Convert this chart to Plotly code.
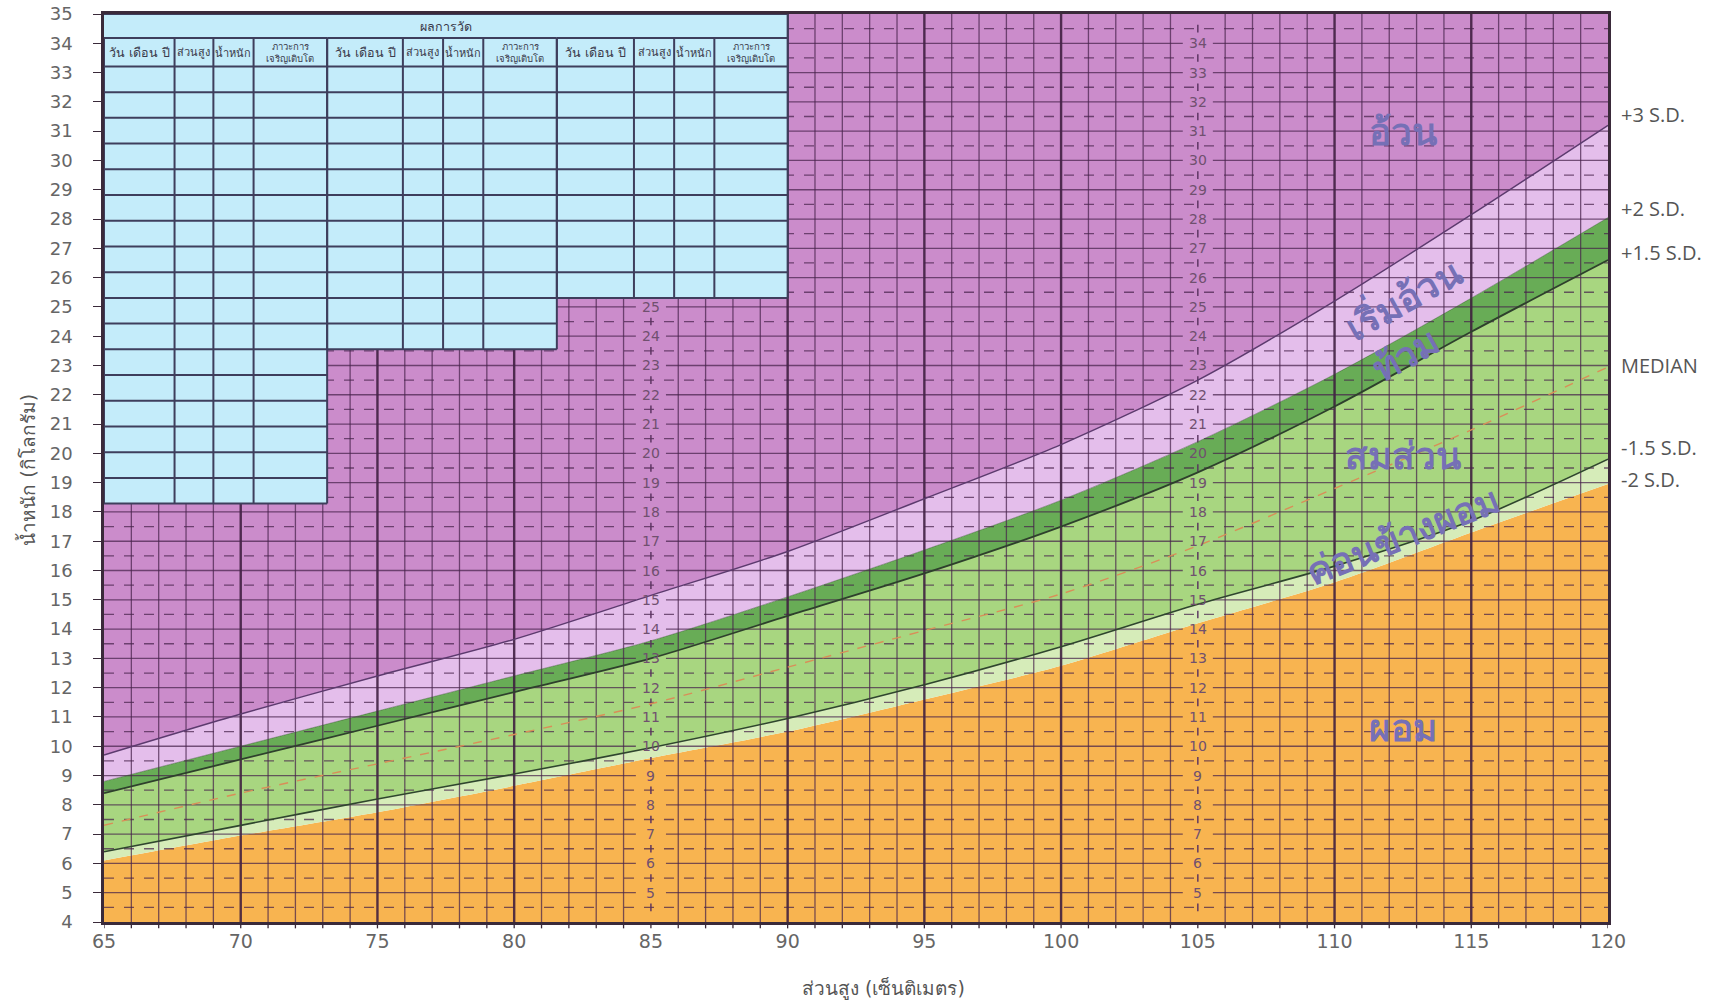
import numpy as np
import plotly.graph_objects as go

# ---------------- data ----------------
heights = [65, 70, 75, 80, 85, 90, 95, 100, 105, 110, 115, 120]
sd_minus2 = [6.1, 6.95, 7.75, 8.65, 9.6, 10.5, 11.6, 12.75, 14.2, 15.6, 17.3, 18.95]
sd_minus15 = [6.4, 7.3, 8.2, 9.05, 9.95, 10.95, 12.1, 13.4, 14.85, 16.15, 17.7, 19.8]
median = [7.3, 8.4, 9.4, 10.4, 11.45, 12.7, 13.95, 15.2, 16.85, 18.8, 20.8, 22.95]
sd_plus15 = [8.4, 9.55, 10.7, 11.85, 13.0, 14.45, 15.9, 17.5, 19.35, 21.6, 24.15, 26.6]
sd_plus2 = [8.8, 10.0, 11.2, 12.4, 13.6, 15.1, 16.7, 18.4, 20.4, 22.7, 25.3, 28.05]
sd_plus3 = [9.7, 11.1, 12.4, 13.65, 15.15, 16.65, 18.45, 20.3, 22.5, 25.2, 28.15, 31.2]

curve_names = ["+3 S.D.", "+2 S.D.", "+1.5 S.D.", "MEDIAN", "-1.5 S.D.", "-2 S.D."]
zone_names = ["อ้วน", "เริ่มอ้วน", "ท้วม", "สมส่วน", "ค่อนข้างผอม", "ผอม"]

x_min, x_max = 65, 120
y_min, y_max = 4, 35

table_title = "ผลการวัด"
table_headers = ["วัน เดือน ปี", "ส่วนสูง", "น้ำหนัก", "ภาวะการ<br>เจริญเติบโต"]
table_cols = [65, 67.58, 69.0, 70.47, 73.16, 75.93, 77.4, 78.87, 81.56, 84.38, 85.85, 87.32, 90.0]
table_rows_per_group = [17, 11, 9]

x_title = "ส่วนสูง (เซ็นติเมตร)"
y_title = "น้ำหนัก (กิโลกรัม)"

# ---------------- styles ----------------
C_ORANGE = "#F8B450"
C_LGREEN = "#D6ECB9"
C_GREEN = "#A8D680"
C_DGREEN = "#68AC56"
C_LPURPLE = "#E4BEEB"
C_PURPLE = "#CB8CCB"
C_TABLE = "#C4ECFA"
GRID = "rgba(70,35,75,0.72)"
GRID_MAJOR = "rgba(60,28,62,0.88)"
ZONE_TXT = "#7670B6"
LABEL_TXT = "#555555"
TABLE_LINE = "#3E3E5C"
AXIS = "#3A2A3A"

fig = go.Figure()

# ---------------- bands ----------------
top = [y_max] * len(heights)
base = [y_min] * len(heights)
fig.add_trace(go.Scatter(x=heights, y=base, mode="lines", line=dict(width=0),
                         hoverinfo="skip", showlegend=False))
for ys, col in [(sd_minus2, C_ORANGE), (sd_minus15, C_LGREEN), (sd_plus15, C_GREEN),
                (sd_plus2, C_DGREEN), (sd_plus3, C_LPURPLE), (top, C_PURPLE)]:
    fig.add_trace(go.Scatter(x=heights, y=ys, mode="lines",
                             line=dict(width=0, shape="spline", smoothing=0.8),
                             fill="tonexty", fillcolor=col,
                             hoverinfo="skip", showlegend=False))

# ---------------- grid ----------------
label_cols = [85, 105]
gap = 0.55

def seg_trace(xs, ys, color, width, dash="solid"):
    fig.add_trace(go.Scatter(x=xs, y=ys, mode="lines",
                             line=dict(color=color, width=width, dash=dash),
                             hoverinfo="skip", showlegend=False))

xs, ys = [], []
for xv in range(x_min + 1, x_max):
    if xv % 5 == 0 or xv in label_cols:
        continue
    xs += [xv, xv, None]
    ys += [y_min, y_max, None]
seg_trace(xs, ys, GRID, 1.3)
xs, ys = [], []
for xv in range(x_min + 5, x_max, 5):
    if xv in label_cols:
        continue
    xs += [xv, xv, None]
    ys += [y_min, y_max, None]
seg_trace(xs, ys, GRID_MAJOR, 2.4)
xs, ys = [], []
for yv in range(y_min + 1, y_max):
    pts = [x_min]
    for c in label_cols:
        pts += [c - gap, c + gap]
    pts.append(x_max)
    for i in range(0, len(pts), 2):
        xs += [pts[i], pts[i + 1], None]
        ys += [yv, yv, None]
seg_trace(xs, ys, GRID, 1.3)
xs, ys = [], []
for k in range(y_min, y_max):
    yv = k + 0.5
    xs += [x_min, x_max, None]
    ys += [yv, yv, None]
seg_trace(xs, ys, GRID, 1.3, dash="10px,10px")
xs, ys = [], []
for c in label_cols:
    for k in range(y_min, y_max):
        yv = k + 0.5
        xs += [c, c, None]
        ys += [yv - 0.13, yv + 0.13, None]
seg_trace(xs, ys, "rgba(90,50,95,0.9)", 1.6)

# ---------------- curves ----------------
curve_style = [
    (sd_plus3, "#5C3A6E", 1.4, "solid"),
    (sd_plus2, "rgba(50,80,45,0.6)", 0.8, "solid"),
    (sd_plus15, "#2E402C", 1.8, "solid"),
    (median, "#D98E58", 1.4, "dash"),
    (sd_minus15, "#2F452E", 1.6, "solid"),
]
for ys, col, w, d in curve_style:
    fig.add_trace(go.Scatter(x=heights, y=ys, mode="lines",
                             line=dict(color=col, width=w, dash=d, shape="spline", smoothing=0.8),
                             hoverinfo="skip", showlegend=False))

# ---------------- table (shapes above) ----------------
shapes = []
h_top, h_bot, sub_bot, row_h = 35.0, 34.18, 33.21, 0.878
groups = []
for g in range(3):
    cols = table_cols[4 * g: 4 * g + 5]
    bottom = sub_bot - table_rows_per_group[g] * row_h
    groups.append((cols, bottom))
    shapes.append(dict(type="rect", xref="x", yref="y", x0=cols[0], x1=cols[-1],
                       y0=bottom, y1=h_bot, fillcolor=C_TABLE, line=dict(width=0), layer="above"))
shapes.append(dict(type="rect", xref="x", yref="y", x0=table_cols[0], x1=table_cols[-1],
                   y0=h_bot, y1=h_top, fillcolor=C_TABLE, line=dict(width=0), layer="above"))
for g, (cols, bottom) in enumerate(groups):
    for cx in cols:
        shapes.append(dict(type="line", xref="x", yref="y", x0=cx, x1=cx, y0=bottom, y1=h_bot,
                           line=dict(color=TABLE_LINE, width=2), layer="above"))
    row_lines = [h_bot, sub_bot] + [sub_bot - (r + 1) * row_h for r in range(table_rows_per_group[g])]
    for yv in row_lines:
        shapes.append(dict(type="line", xref="x", yref="y", x0=cols[0], x1=cols[-1], y0=yv, y1=yv,
                           line=dict(color=TABLE_LINE, width=2), layer="above"))
shapes.append(dict(type="line", xref="x", yref="y", x0=table_cols[-1], x1=table_cols[-1], y0=h_bot, y1=h_top,
                   line=dict(color=TABLE_LINE, width=2), layer="above"))
shapes.append(dict(type="line", xref="x", yref="y", x0=table_cols[0], x1=table_cols[-1], y0=h_top, y1=h_top,
                   line=dict(color=TABLE_LINE, width=2), layer="above"))

for xv in range(x_min, x_max + 1):
    shapes.append(dict(type="line", xref="x", yref="paper", x0=xv, x1=xv, y0=0, y1=-0.007,
                       line=dict(color=AXIS, width=1.3), layer="above"))

annotations = []
annotations.append(dict(x=(table_cols[0] + table_cols[-1]) / 2, y=(h_top + h_bot) / 2, xref="x", yref="y",
                        text=table_title, showarrow=False, font=dict(size=12.5, color="#3A3A4A")))
for g in range(3):
    cols = table_cols[4 * g: 4 * g + 5]
    for i, t in enumerate(table_headers):
        if "<br>" in t:
            fs = 9.5
        elif i == 0:
            fs = 12.5
        else:
            fs = 11
        annotations.append(dict(x=(cols[i] + cols[i + 1]) / 2, y=(h_bot + sub_bot) / 2, xref="x", yref="y",
                                text=t, showarrow=False, font=dict(size=fs, color="#3A3A4A"),
                                align="center"))

for c, top_lab in [(85, 25), (105, 34)]:
    for v in range(5, top_lab + 1):
        annotations.append(dict(x=c, y=v, xref="x", yref="y", text=str(v), showarrow=False,
                                font=dict(size=14, color="#70506F", family="DejaVu Sans")))

label_y = [31.57, 28.35, 26.85, 23.0, 20.2, 19.1]
for name, yv in zip(curve_names, label_y):
    annotations.append(dict(x=1.0075, y=yv, xref="paper", yref="y", xanchor="left", yanchor="middle",
                            text=name, showarrow=False,
                            font=dict(size=20, color=LABEL_TXT, family="Open Sans")))

zone_pos = [(112.5, 30.95, 0), (112.5, 25.3, -29), (112.6, 23.35, -29), (112.5, 19.9, 0),
            (112.5, 17.15, -22), (112.5, 10.6, 0)]
for name, (zx, zy, ang) in zip(zone_names, zone_pos):
    annotations.append(dict(x=zx, y=zy, xref="x", yref="y", text="<b>" + name + "</b>", showarrow=False,
                            textangle=ang, xanchor="center", yanchor="middle",
                            font=dict(size=37, color=ZONE_TXT)))

annotations.append(dict(x=0.5186, y=-0.0727, xref="paper", yref="paper", text=x_title, showarrow=False,
                        xanchor="center", yanchor="middle", font=dict(size=19, color=LABEL_TXT)))
annotations.append(dict(x=-0.0512, y=0.498, xref="paper", yref="paper", text=y_title, showarrow=False,
                        xanchor="center", yanchor="middle",
                        textangle=-90, font=dict(size=19, color=LABEL_TXT)))

fig.update_layout(
    width=1715, height=1003,
    margin=dict(l=104, r=107, t=14, b=81, autoexpand=False),
    paper_bgcolor="white", plot_bgcolor="white",
    shapes=shapes, annotations=annotations,
    font=dict(family="DejaVu Sans"),
    xaxis=dict(range=[x_min, x_max], tickmode="array",
               tickvals=list(range(x_min, x_max + 1, 5)),
               ticks="", automargin=False,
               showgrid=False, zeroline=False, showline=True, linecolor=AXIS, linewidth=2.5,
               mirror=True, tickfont=dict(size=19, color="#666666")),
    yaxis=dict(range=[y_min, y_max], tickmode="array", tickvals=list(range(y_min, y_max + 1)),
               ticks="outside", ticklen=8, tickcolor=AXIS, tickwidth=1.3, automargin=False,
               ticklabelstandoff=17,
               showgrid=False, zeroline=False, showline=True, linecolor=AXIS, linewidth=2.5,
               mirror=True, tickfont=dict(size=18, color="#666666")),
)

fig.write_html("out.html", config={"displayModeBar": False},
               post_script="document.body.style.margin='0';document.body.style.overflow='hidden';")
